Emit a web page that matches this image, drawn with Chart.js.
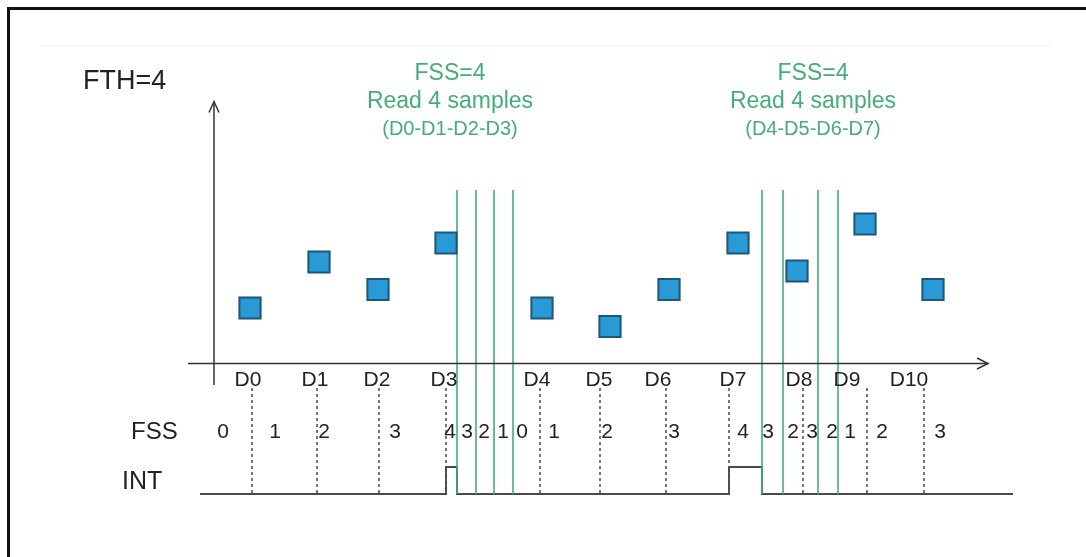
<!DOCTYPE html>
<html>
<head>
<meta charset="utf-8">
<script src="https://cdn.jsdelivr.net/npm/chart.js@4/dist/chart.umd.min.js"></script>
<style>
html, body { margin: 0; padding: 0; background: #fff; }
#wrap { position: relative; width: 1086px; height: 557px; overflow: hidden; }
#frame { position: absolute; left: 7px; top: 7px; right: -10px; bottom: -10px;
         border-top: 3px solid #111; border-left: 3px solid #111; pointer-events: none; }
canvas { position: absolute; left: 0; top: 0; }
</style>
</head>
<body>
<div id="wrap">
  <canvas id="fifoChart" width="1086" height="557"></canvas>
  <div id="frame"></div>
</div>
<script>
// samples read by the sensor
const sampleNames  = ['D0', 'D1', 'D2', 'D3', 'D4', 'D5', 'D6', 'D7', 'D8', 'D9', 'D10'];
const sampleTimes  = [250, 319, 378, 446, 542, 610, 669, 738, 797, 865, 933];
const sampleValues = [5.55, 10.15, 7.4, 12.05, 5.55, 3.7, 7.4, 12.05, 9.25, 13.95, 7.4];
const labelTimes   = [248, 315, 377, 444, 537, 599, 658, 733, 799, 847, 909];
const tickTimes    = [252, 317, 379, 446, 540, 600, 666, 729, 803, 867, 924];

// FIFO stored samples counter
const fssCounts = [0, 1, 2, 3, 4, 3, 2, 1, 0, 1, 2, 3, 4, 3, 2, 3, 2, 1, 2, 3];
const fssTimes  = [223, 275, 324, 395, 450, 467, 484, 503, 522, 554, 607, 674, 743, 768, 793, 812, 832, 850, 882, 940];

// reads (green lines) and interrupt signal
const readTimes = [457, 476, 494, 513, 762, 783, 818, 838];
const intTimes  = [200, 446, 457, 729, 762, 1013];
const intLevels = [0, 1, 0, 1, 0, 0];

const readGroups   = [['FSS=4', 'Read 4 samples', '(D0-D1-D2-D3)'],
                      ['FSS=4', 'Read 4 samples', '(D4-D5-D6-D7)']];
const groupCenters = [450, 813];

const GREEN = '#45ad78';
const DARK = '#333';

const axisY = 0;          // value of horizontal axis
const axisTop = 26.2;     // top of vertical axis
const axisX0 = 188, axisX1 = 988, axisXV = 214;

const datasets = [];

// the samples
datasets.push({
    data: sampleTimes.map((t, i) => ({x: t, y: sampleValues[i]})),
    showLine: false,
    pointStyle: 'rect',
    pointRadius: 15,
    backgroundColor: '#2a9ad6',
    borderColor: '#1d5776',
    borderWidth: 2
});

// axes + arrow heads
datasets.push({data: [{x: axisX0, y: axisY}, {x: axisX1, y: axisY}]});
datasets.push({data: [{x: axisX1 - 11, y: axisY + 0.55}, {x: axisX1, y: axisY}, {x: axisX1 - 11, y: axisY - 0.55}]});
datasets.push({data: [{x: axisXV, y: -2.15}, {x: axisXV, y: axisTop}]});
datasets.push({data: [{x: axisXV - 5, y: axisTop - 1.1}, {x: axisXV, y: axisTop}, {x: axisXV + 5, y: axisTop - 1.1}]});
for (const ds of datasets.slice(1)) {
    Object.assign(ds, {showLine: true, pointRadius: 0, borderColor: DARK, borderWidth: 1.5});
}

// faint rule near the top of the frame
datasets.push({
    data: [{x: 40, y: 31.8}, {x: 1050, y: 31.8}],
    showLine: true, pointRadius: 0, borderColor: '#f1f1f1', borderWidth: 1
});

// dotted sample markers
for (const t of tickTimes) {
    datasets.push({
        data: [{x: t, y: -2.45}, {x: t, y: -13.05}],
        showLine: true, pointRadius: 0,
        borderColor: '#555', borderWidth: 1.6, borderDash: [3, 3]
    });
}

// green read lines
for (const t of readTimes) {
    datasets.push({
        data: [{x: t, y: 17.35}, {x: t, y: -13.05}],
        showLine: true, pointRadius: 0,
        borderColor: GREEN, borderWidth: 1.6
    });
}

// INT signal
datasets.push({
    data: intTimes.map((t, i) => ({x: t, y: intLevels[i]})),
    yAxisID: 'yInt',
    showLine: true, stepped: true, pointRadius: 0,
    borderColor: '#4a4a4a', borderWidth: 2
});

const textPlugin = {
    id: 'texts',
    afterDatasetsDraw(chart) {
        const ctx = chart.ctx;
        const xs = chart.scales.x, ys = chart.scales.y;
        const put = (s, t, v, size, color, align) => {
            ctx.font = size + 'px "Liberation Sans", Arial, sans-serif';
            ctx.fillStyle = color;
            ctx.textAlign = align || 'center';
            ctx.textBaseline = 'middle';
            ctx.fillText(s, xs.getPixelForValue(t), ys.getPixelForValue(v));
        };
        ctx.save();
        put('FTH=4', 83, 28.15, 27, '#222', 'left');
        put('FSS', 131, -6.85, 24, '#222', 'left');
        put('INT', 122, -11.85, 25, '#222', 'left');
        sampleNames.forEach((n, i) => put(n, labelTimes[i], -1.65, 21, '#222'));
        fssCounts.forEach((c, i) => put(String(c), fssTimes[i], -6.85, 21, '#222'));
        readGroups.forEach((lines, g) => {
            put(lines[0], groupCenters[g], 29.0, 23, GREEN);
            put(lines[1], groupCenters[g], 26.2, 23, GREEN);
            put(lines[2], groupCenters[g], 23.45, 20, GREEN);
        });
        ctx.restore();
    }
};

const ctx = document.getElementById('fifoChart');
new Chart(ctx, {
    type: 'scatter',
    data: {datasets: datasets},
    options: {
        responsive: false,
        animation: false,
        devicePixelRatio: 1,
        layout: {padding: 0, autoPadding: false},
        plugins: {legend: {display: false}, tooltip: {enabled: false}},
        scales: {
            x: {type: 'linear', display: false, min: 0, max: 1086},
            y: {type: 'linear', display: false, min: -19.35, max: 36.35},
            yInt: {type: 'linear', display: false, min: -2.333, max: 18.296}
        },
        elements: {line: {tension: 0}}
    },
    plugins: [textPlugin]
});
</script>
</body>
</html>
